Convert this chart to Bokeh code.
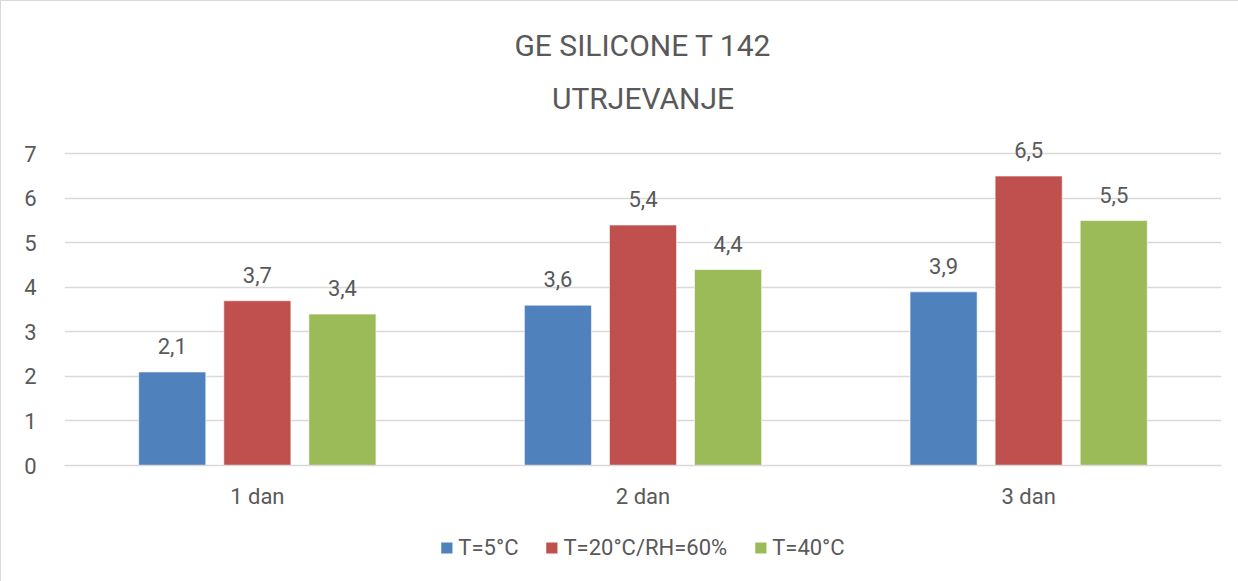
from bokeh.plotting import figure
from bokeh.models import ColumnDataSource, FactorRange, Range1d, Legend, LegendItem, Title, FixedTicker
from bokeh.layouts import column
from bokeh.transform import dodge
from bokeh.core.properties import value
from bokeh.embed import file_html
from bokeh.resources import INLINE

categories = ["1 dan", "2 dan", "3 dan"]
series_names = ["T=5°C", "T=20°C/RH=60%", "T=40°C"]
t5 = [2.1, 3.6, 3.9]
t20 = [3.7, 5.4, 6.5]
t40 = [3.4, 4.4, 5.5]
colors = ["#4F81BD", "#C0504D", "#9BBB59"]
y_ticks = [0, 1, 2, 3, 4, 5, 6, 7]

def fmt(v):
    return ("%.1f" % v).replace(".", ",")

src = ColumnDataSource(dict(
    cat=categories,
    t5=t5, t20=t20, t40=t40,
    l5=[fmt(v) for v in t5],
    l20=[fmt(v) for v in t20],
    l40=[fmt(v) for v in t40],
))

FONT = "Roboto"
GREY = "#595959"
BORDER = "1px solid #d9d9d9"

p = figure(x_range=FactorRange(*categories, range_padding=0), y_range=Range1d(0, 7.5),
           frame_width=1156, frame_height=333, output_backend="svg", toolbar_location=None,
           min_border_left=63, min_border_right=19, min_border_top=130, min_border_bottom=48)
p.styles = {"border-left": BORDER, "border-top": BORDER}

p.title.text = "GE SILICONE T 142"
p.title.align = "center"
p.title.text_font = FONT
p.title.text_font_size = "30px"
p.title.text_font_style = "normal"
p.title.text_color = GREY
p.title.standoff = 0
t2 = Title(text="UTRJEVANJE", align="center", text_font=FONT, text_font_size="30px",
           text_font_style="normal", text_color=GREY, standoff=32)
p.add_layout(t2, "above")

offsets = [-0.2206, 0.0, 0.2206]
cols = ["t5", "t20", "t40"]
lcols = ["l5", "l20", "l40"]
for off, c, lc, col in zip(offsets, cols, lcols, colors):
    p.vbar(x=dodge("cat", off, range=p.x_range), top=c, width=0.174, source=src,
           fill_color=col, line_color="white", line_alpha=0.6, line_width=1)
    p.text(x=dodge("cat", off, range=p.x_range), y=c, text=lc, source=src,
           text_align="center", text_baseline="alphabetic", y_offset=-26,
           text_font=value(FONT), text_font_size="22px", text_color=GREY)

p.yaxis.ticker = FixedTicker(ticks=y_ticks)
p.yaxis.axis_line_color = None
p.yaxis.major_tick_line_color = None
p.yaxis.minor_tick_line_color = None
p.yaxis.major_label_standoff = 22
p.xaxis.axis_line_color = "#d9d9d9"
p.xaxis.axis_line_width = 1.5
p.xaxis.major_tick_line_color = None
p.xaxis.major_label_standoff = 12
for ax in (p.xaxis, p.yaxis):
    ax.major_label_text_font = FONT
    ax.major_label_text_font_size = "22px"
    ax.major_label_text_color = GREY

p.xgrid.grid_line_color = None
p.ygrid.grid_line_color = "#d9d9d9"
p.ygrid.grid_line_width = 1.5
p.outline_line_color = None
p.background_fill_color = "white"
p.border_fill_color = "white"

# legend strip below the chart (its bars lie outside its visible range; only the legend shows)
lf = figure(width=1238, height=70, x_range=FactorRange(*categories), y_range=Range1d(100, 101),
            x_axis_type=None, y_axis_type=None, output_backend="svg", toolbar_location=None,
            min_border=0)
lf.styles = {"border-left": BORDER}
lf.outline_line_color = None
lf.border_fill_color = "white"
lf.xgrid.visible = False
lf.ygrid.visible = False
items = []
for c, col, name in zip(cols, colors, series_names):
    r = lf.vbar(x="cat", top=c, width=0.5, source=src, fill_color=col, line_color=None)
    items.append(LegendItem(label=name, renderers=[r]))
legend = Legend(items=items, orientation="horizontal", location="center",
                glyph_width=14, glyph_height=14, label_standoff=5, spacing=26,
                label_text_font=FONT, label_text_font_size="22px", label_text_color=GREY,
                border_line_color=None, background_fill_alpha=0, margin=0, padding=6)
lf.add_layout(legend, "center")

layout = column(p, lf, spacing=0)
open("out.html", "w").write(file_html(layout, INLINE))
